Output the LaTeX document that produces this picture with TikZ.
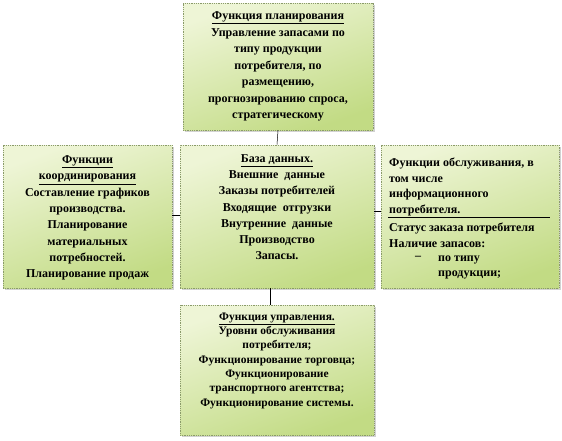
\documentclass[tikz,border=0pt]{standalone}
\usepackage{fontspec}
\setmainfont{Liberation Serif}
\usetikzlibrary{shadows}
\definecolor{gtop}{HTML}{EEF5D6}
\definecolor{gbot}{HTML}{C2DB84}
\definecolor{bord}{HTML}{8A9A6A}
\tikzset{
  box/.style={draw=bord, densely dotted, line width=0.8pt, top color=gtop, bottom color=gbot, shading angle=20,
    drop shadow={shadow xshift=1.5pt, shadow yshift=-1.5pt, fill=black!35}, inner sep=0pt},
  txt/.style 2 args={font=\bfseries\fontsize{#1}{#2}\selectfont, inner sep=0pt, align=center},
  link/.style={draw=black, line width=0.5pt}
}
\begin{document}
\begin{tikzpicture}[x=1pt,y=-1pt]
\useasboundingbox (0,0) rectangle (562,440);
\node[box, minimum width=190pt, minimum height=127pt] (top) at (278,66.5) {};
\node[box, minimum width=169pt, minimum height=143pt] (left) at (87.5,216.5) {};
\node[box, minimum width=194pt, minimum height=143pt] (mid) at (277,216.5) {};
\node[box, minimum width=178pt, minimum height=143pt] (right) at (470,216.5) {};
\node[box, minimum width=194pt, minimum height=130pt] (bot) at (277,370) {};

\node[txt={12}{16.5}, anchor=north] (toptxt) at (278,11.5) {\underline{Функция планирования}\\Управление запасами по\\типу продукции\\потребителя, по\\размещению,\\прогнозированию спроса,\\стратегическому};
\node[txt={12}{16.3}, anchor=north] (lefttxt) at (87.5,155.5) {\underline{Функции}\\\underline{координирования}\\Составление графиков\\производства.\\Планирование\\материальных\\потребностей.\\Планирование продаж};
\node[txt={12}{16.2}, anchor=north] (midtxt) at (277,154.5) {\underline{База данных.}\\Внешние\ \ данные\\Заказы потребителей\\Входящие\ \ отгрузки\\Внутренние\ \ данные\\Производство\\Запасы.};
\node[txt={12}{15.8}, anchor=north west, align=left] (righttxt1) at (389,157.5) {Функции обслуживания, в\\том числе\\информационного\\потребителя.};
\node[txt={12}{16.2}, anchor=north west, align=left] (righttxt2) at (389,222.5) {Статус заказа потребителя\\Наличие запасов:};
\node[txt={12}{15.5}, anchor=north west, align=left] (righttxt3) at (438,255.5) {по типу\\продукции;};
\node[txt={12}{12}, anchor=north] (dash) at (418,256) {--};
\coordinate (rl1) at (388,217);
\coordinate (rl2) at (550,217);
\draw[black, line width=0.6pt] (rl1) -- (rl2);
\node[txt={11.5}{14.3}, anchor=north] (bottxt) at (277,312.5) {\underline{Функция управления.}\\Уровни обслуживания\\потребителя;\\Функционирование торговца;\\Функционирование\\транспортного агентства;\\Функционирование системы.};

\draw[link] (top.south) -- (mid.north);
\draw[link] ([yshift=1.5pt]left.east) -- ([yshift=1.5pt]mid.west);
\draw[link] ([yshift=5.5pt]mid.east) -- ([yshift=5.5pt]right.west);
\draw[link] ([xshift=-7pt]mid.south) -- ([xshift=-7pt]bot.north);
\end{tikzpicture}
\end{document}
